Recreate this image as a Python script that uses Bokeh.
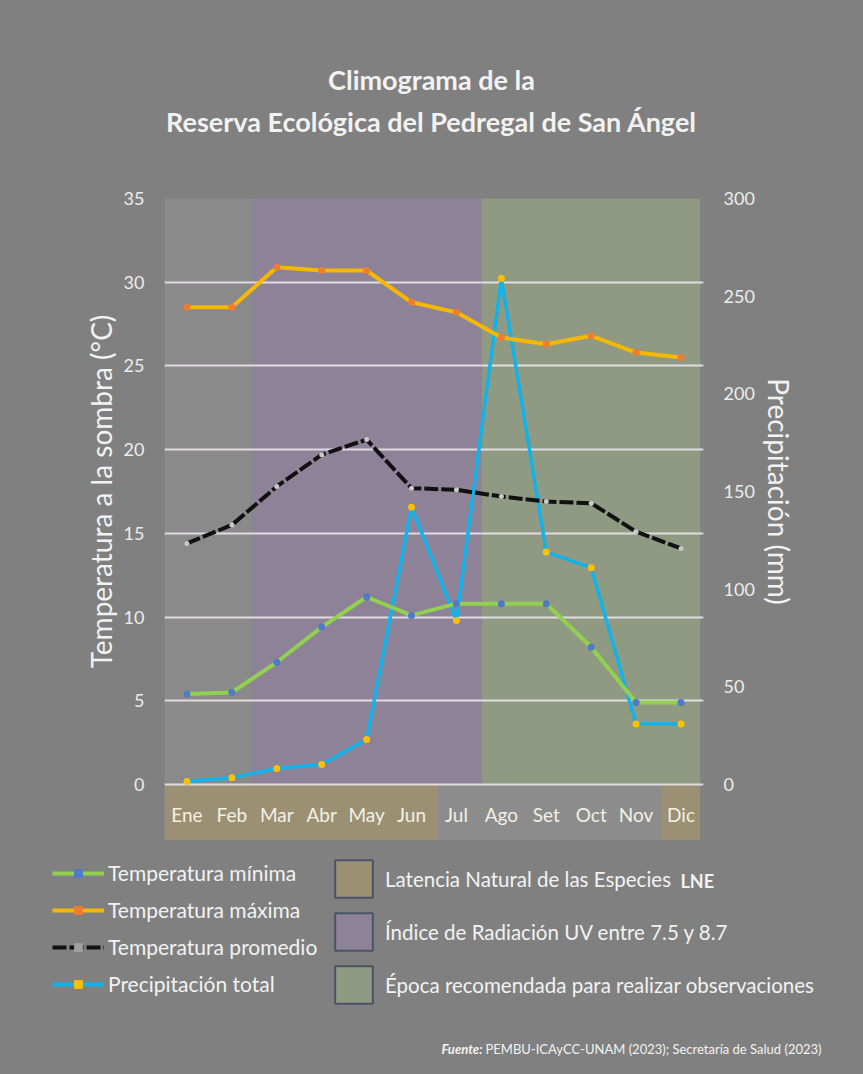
import math
from bokeh.plotting import figure
from bokeh.layouts import column, row
from bokeh.models import (FactorRange, Range1d, LinearAxis, FixedTicker, Legend,
                          LegendItem, Label)
from bokeh.embed import file_html
from bokeh.resources import INLINE

# ---------------- data ----------------
meses = ["Ene", "Feb", "Mar", "Abr", "May", "Jun", "Jul", "Ago", "Set", "Oct", "Nov", "Dic"]
t_min = [5.4, 5.5, 7.3, 9.4, 11.2, 10.1, 10.8, 10.8, 10.8, 8.2, 4.9, 4.9]
t_max = [28.5, 28.5, 30.9, 30.7, 30.7, 28.8, 28.2, 26.7, 26.3, 26.8, 25.8, 25.5]
t_prom = [14.4, 15.5, 17.8, 19.7, 20.6, 17.7, 17.6, 17.2, 16.9, 16.8, 15.1, 14.1]
precip = [1.5, 3.5, 8.2, 10.2, 23.0, 142.0, 84.0, 259.0, 119.0, 111.0, 31.0, 31.0]

temp_ticks = [0, 5, 10, 15, 20, 25, 30, 35]
precip_ticks = [0, 50, 100, 150, 200, 250, 300]

# periods (in month units along the axis)
uv_period = (1.93, 7.07)        # Índice de Radiación UV
obs_period = (7.07, 11.93)      # Época recomendada
lne_periods = [(0.0, 6.09), (11.04, 11.93)]  # Latencia Natural
gap_period = (6.09, 11.04)

title_lines = ["Climograma de la", "Reserva Ecológica del Pedregal de San Ángel"]
y_title = "Temperatura a la sombra (°C)"
y2_title = "Precipitación (mm)"
serie_labels = ["Temperatura mínima", "Temperatura máxima", "Temperatura promedio",
                "Precipitación total"]
periodo_labels = ["Latencia Natural de las Especies", "Índice de Radiación UV entre 7.5 y 8.7",
                  "Época recomendada para realizar observaciones"]
fuente = "PEMBU-ICAyCC-UNAM (2023); Secretaría de Salud (2023)"

FONT = "Lato"
TXT = "#f2f2f2"
BG = "#808080"
FRAME_BG = "#8a8a8a"
C_UV = "#8d8298"
C_OBS = "#909a82"
C_LNE = "#9b9073"
C_MIN, C_MIN_M = "#92d050", "#4f79c9"
C_MAX, C_MAX_M = "#f5b800", "#ed7d31"
C_PROM, C_PROM_M = "#111111", "#c8c8c8"
C_PP, C_PP_M = "#12b2ea", "#ffc000"
BOX_LINE = "#4a5468"
NAN = float("nan")

W = 863
H_TOP, H_MAIN, H_BOT = 160, 680, 234
W_L, W_R = 120, 105

T_LO, T_HI = -3.345, 35
P_LO, P_HI = -28.67, 300


def blank(w, h):
    f = figure(width=w, height=h, x_range=Range1d(0, w), y_range=Range1d(h, 0),
               output_backend="svg", toolbar_location=None,
               x_axis_location=None, y_axis_location=None,
               min_border=0, frame_align=False)
    f.grid.visible = False
    f.background_fill_color = BG
    f.border_fill_color = BG
    f.outline_line_color = None
    return f


# ---------------- title ----------------
top = blank(W, H_TOP)
for txt, yy in zip(title_lines, [79, 121]):
    top.add_layout(Label(x=431, y=yy, text=txt, text_align="center",
                         text_baseline="middle", text_font=FONT, text_font_style="bold",
                         text_font_size="27px", text_color=TXT))

# ---------------- axis titles ----------------
left = blank(W_L, H_MAIN)
left.add_layout(Label(x=100, y=331, text=y_title, angle=math.pi / 2, text_align="center",
                      text_baseline="middle", text_font=FONT, text_font_size="28px",
                      text_color=TXT))
right = blank(W_R, H_MAIN)
right.add_layout(Label(x=20, y=331, text=y2_title, angle=-math.pi / 2, text_align="center",
                       text_baseline="middle", text_font=FONT, text_font_size="28px",
                       text_color=TXT))

# ---------------- main chart ----------------
p = figure(width=W - W_L - W_R, height=H_MAIN, x_range=FactorRange(*meses),
           y_range=Range1d(T_LO, T_HI),
           output_backend="svg", toolbar_location=None,
           min_border_left=163 - W_L, min_border_right=160 - W_R,
           min_border_top=38, min_border_bottom=0, frame_align=False)
p.background_fill_color = FRAME_BG
p.border_fill_color = BG
p.outline_line_color = None

p.quad(left=[uv_period[0]], right=[uv_period[1]], bottom=[0], top=[35],
       fill_color=C_UV, line_color=None, level="image")
p.quad(left=[obs_period[0]], right=[obs_period[1]], bottom=[0], top=[35],
       fill_color=C_OBS, line_color=None, level="image")
p.quad(left=[a for a, b in lne_periods], right=[b for a, b in lne_periods],
       bottom=[T_LO] * 2, top=[0] * 2, fill_color=C_LNE, line_color=None, level="image")
p.quad(left=[gap_period[0]], right=[gap_period[1]], bottom=[T_LO], top=[0],
       fill_color="#8c8c8c", line_color=None, level="image")
p.quad(left=[obs_period[1]], right=[12], bottom=[T_LO], top=[35],
       fill_color=BG, line_color=None, level="image")

p.xgrid.visible = False
p.ygrid.ticker = FixedTicker(ticks=temp_ticks)
p.ygrid.grid_line_color = "#e8e4ea"
p.ygrid.grid_line_width = 2
p.ygrid.grid_line_alpha = 0.9

p.extra_y_ranges = {"pp": Range1d(P_LO, P_HI)}

p.line(meses, precip, y_range_name="pp", line_color=C_PP, line_width=3.5)
p.scatter(meses, precip, y_range_name="pp", size=7, fill_color=C_PP_M, line_color=None)
p.line(meses, t_max, line_color=C_MAX, line_width=4)
p.scatter(meses, t_max, size=7, fill_color=C_MAX_M, line_color=None)
p.line(meses, t_prom, line_color=C_PROM, line_width=4, line_dash="14 3")
p.scatter(meses, t_prom, size=5, fill_color=C_PROM_M, line_color=None)
p.line(meses, t_min, line_color=C_MIN, line_width=4)
p.scatter(meses, t_min, size=7, fill_color=C_MIN_M, line_color=None)

lax = p.yaxis[0]
lax.ticker = FixedTicker(ticks=temp_ticks)
rax = LinearAxis(y_range_name="pp", ticker=FixedTicker(ticks=precip_ticks))
p.add_layout(rax, "right")

for ax in [lax, rax]:
    ax.axis_line_color = None
    ax.major_tick_line_color = None
    ax.minor_tick_line_color = None
    ax.major_tick_out = 0
    ax.major_tick_in = 0
    ax.major_label_standoff = 20
    ax.major_label_text_font = FONT
    ax.major_label_text_font_size = "18px"
    ax.major_label_text_color = "#ececec"

xa = p.xaxis[0]
xa.fixed_location = 0
xa.axis_line_color = None
xa.major_tick_line_color = None
xa.minor_tick_line_color = None
xa.major_tick_out = 0
xa.major_tick_in = 0
xa.major_label_standoff = 19
xa.major_label_text_font = FONT
xa.major_label_text_font_size = "19px"
xa.major_label_text_color = "#f3f0e4"

# ---------------- legends + source ----------------
bot = blank(W, H_BOT)
lines = [
    bot.line([NAN], [NAN], line_color=C_MIN, line_width=4),
    bot.line([NAN], [NAN], line_color=C_MAX, line_width=4),
    bot.line([NAN], [NAN], line_color=C_PROM, line_width=4, line_dash="14 3"),
    bot.line([NAN], [NAN], line_color=C_PP, line_width=4),
]
marks = [
    bot.scatter([NAN], [NAN], marker="square", size=6, fill_color=c, line_color=None)
    for c in [C_MIN_M, C_MAX_M, "#a0a0a0", C_PP_M]
]
leg1 = Legend(items=[LegendItem(label=lab, renderers=[l, m])
                     for lab, l, m in zip(serie_labels, lines, marks)],
              location=(52, 78), orientation="vertical", background_fill_alpha=0,
              border_line_color=None, padding=0, margin=0, spacing=12, glyph_width=52,
              glyph_height=22, label_height=22, label_standoff=4, label_text_font=FONT,
              label_text_font_size="21px", label_text_color=TXT)
bot.add_layout(leg1)

boxes = [bot.quad(left=[NAN], right=[NAN], bottom=[NAN], top=[NAN], fill_color=c,
                  line_color=BOX_LINE, line_width=2) for c in [C_LNE, C_UV, C_OBS]]
leg2 = Legend(items=[LegendItem(label=lab, renderers=[b])
                     for lab, b in zip(periodo_labels, boxes)],
              location=(330, 66), orientation="vertical", background_fill_alpha=0,
              border_line_color=None, padding=0, margin=0, spacing=6, glyph_width=47,
              glyph_height=47, label_height=47, label_standoff=8, label_text_font=FONT,
              label_text_font_size="20.5px", label_text_color=TXT)
bot.add_layout(leg2)
bot.add_layout(Label(x=680, y=40, text="LNE", text_align="left", text_baseline="middle",
                     text_font=FONT, text_font_style="bold", text_font_size="18px",
                     text_color=TXT))

bot.add_layout(Label(x=482, y=208, text="Fuente:", text_align="right", text_baseline="middle",
                     text_font=FONT, text_font_style="bold italic", text_font_size="13px",
                     text_color=TXT))
bot.add_layout(Label(x=485, y=208, text=fuente, text_align="left", text_baseline="middle",
                     text_font=FONT, text_font_size="13px", text_color=TXT))

mid = row(left, p, right, spacing=0, styles={"background-color": BG})
layout = column(top, mid, bot, spacing=0, styles={"background-color": BG})
open("out.html", "w").write(file_html(layout, INLINE))
